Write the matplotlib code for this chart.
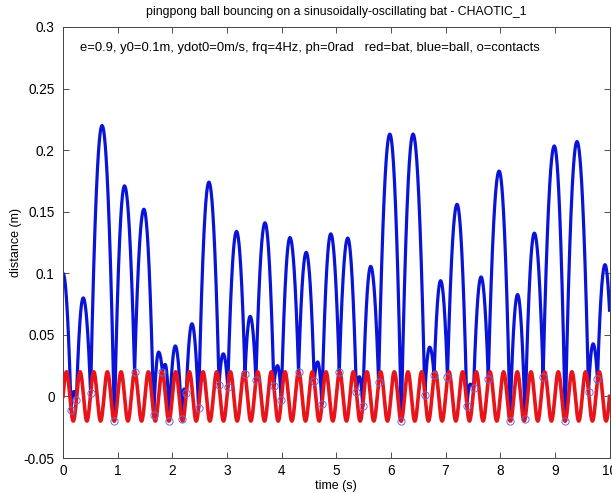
import numpy as np
import matplotlib
matplotlib.use("Agg")
import matplotlib.pyplot as plt

plt.rcParams['font.family'] = ['Liberation Sans', 'DejaVu Sans']

# ---- data ----
bat_amplitude = 0.02      # m
bat_frequency = 4.0       # Hz
bat_phase = 0.0           # rad
t_start, t_end = 0.0, 10.0

# contact points (time s, height m)
contact_t = [0.148, 0.245, 0.505, 0.94, 1.31, 1.66, 1.82, 1.945, 2.17, 2.255,
             2.48, 2.855, 3.015, 3.33, 3.53, 3.858, 3.994, 4.31, 4.597, 4.737,
             5.055, 5.368, 5.484, 5.775, 6.19, 6.62, 6.79, 7.035, 7.39, 7.514,
             7.782, 8.18, 8.455, 8.785, 9.19, 9.616, 9.78]
contact_y = [-0.011, -0.0025, 0.0025, -0.020, 0.020, -0.0154, 0.0196, -0.0196, -0.018, 0.0025,
             -0.0096, 0.0096, 0.0074, 0.018, 0.0137, 0.0083, -0.003, 0.020, 0.0125, -0.0065,
             0.020, 0.0035, -0.008, 0.0116, -0.020, 0.001, 0.017, 0.016, -0.008, 0.007,
             0.0143, -0.0197, -0.018, 0.0157, -0.020, 0.004, 0.0143]

# apex of each flight (time s, height m); first one is the release point
apex_t = [0.0, 0.197, 0.37, 0.715, 1.125, 1.48, 1.75, 1.87, 2.055, 2.215,
          2.36, 2.67, 2.933, 3.175, 3.425, 3.696, 3.925, 4.153, 4.45, 4.66,
          4.9, 5.21, 5.425, 5.63, 5.98, 6.405, 6.71, 6.91, 7.21, 7.452,
          7.65, 7.98, 8.318, 8.625, 8.99, 9.405, 9.70, 9.918]
apex_y = [0.100, 0.004, 0.080, 0.220, 0.171, 0.152, 0.036, 0.026, 0.041, 0.006,
          0.059, 0.174, 0.0346, 0.134, 0.065, 0.141, 0.025, 0.129, 0.117, 0.028,
          0.132, 0.1286, 0.016, 0.1056, 0.213, 0.213, 0.040, 0.094, 0.156, 0.010,
          0.097, 0.183, 0.0827, 0.1326, 0.2034, 0.207, 0.0427, 0.107]
end_y = 0.07   # ball height at t = 10 s

xticks = [0, 1, 2, 3, 4, 5, 6, 7, 8, 9, 10]
yticks = [-0.05, 0, 0.05, 0.1, 0.15, 0.2, 0.25, 0.3]
ytick_labels = ['-0.05', '0', '0.05', '0.1', '0.15', '0.2', '0.25', '0.3']

title = 'pingpong ball bouncing on a sinusoidally-oscillating bat - CHAOTIC_1'
note = 'e=0.9, y0=0.1m, ydot0=0m/s, frq=4Hz, ph=0rad   red=bat, blue=ball, o=contacts'

# ---- build curves ----
tb = np.linspace(t_start, t_end, 4001)
yb = bat_amplitude * np.sin(2 * np.pi * bat_frequency * tb + bat_phase)

# ball: half-parabolas between apex and neighbouring contacts
knots_t = list(contact_t) + [t_end]
knots_y = list(contact_y) + [end_y]
ball_t, ball_y = [], []
for i, (tp, hp) in enumerate(zip(apex_t, apex_y)):
    if i > 0:
        tc, yc = contact_t[i - 1], contact_y[i - 1]
        s = np.linspace(tc, tp, 60)
        ball_t.append(s)
        ball_y.append(hp - (hp - yc) * ((s - tp) / (tc - tp)) ** 2)
    tc, yc = knots_t[i], knots_y[i]
    s = np.linspace(tp, tc, 60)
    ball_t.append(s)
    ball_y.append(hp - (hp - yc) * ((s - tp) / (tc - tp)) ** 2)
ball_t = np.concatenate(ball_t)
ball_y = np.concatenate(ball_y)

# ---- figure ----
fig = plt.figure(figsize=(6.12, 4.93), dpi=100)
ax = fig.add_axes([63 / 612, 1 - 458 / 493, 546.5 / 612, 431 / 493])

ax.plot(ball_t, ball_y, color='#0a14d8', lw=2.3, zorder=2, solid_joinstyle='round')
ax.plot(tb, yb, color='#e8141a', lw=2.6, zorder=3)
ax.plot(contact_t, contact_y, 'o', ms=5.2, mfc='none', mec='#6a6ae0', mew=0.7, zorder=4)

ax.set_xlim(0, 10)
ax.set_ylim(-0.05, 0.3)
ax.set_xticks(xticks)
ax.set_xticklabels([str(x) for x in xticks])
ax.set_yticks(yticks)
ax.set_yticklabels(ytick_labels)
ax.tick_params(direction='in', length=4, width=0.6, colors='#333333', labelsize=9.8,
               top=True, right=True, labelcolor='black')
ax.tick_params(axis='y', pad=6)
ax.tick_params(axis='x', pad=4)
for sp in ax.spines.values():
    sp.set_color('#444444')
    sp.set_linewidth(0.7)

ax.set_xlabel('time (s)', fontsize=9, labelpad=2)
ax.set_ylabel('distance (m)', fontsize=9)
ax.yaxis.set_label_coords(-0.075, 0.5)
ax.set_title(title, fontsize=8.8, pad=9)
ax.text(0.31, 0.283, note, fontsize=9.4, ha='left', va='center')

fig.savefig('out.png', dpi=100)
